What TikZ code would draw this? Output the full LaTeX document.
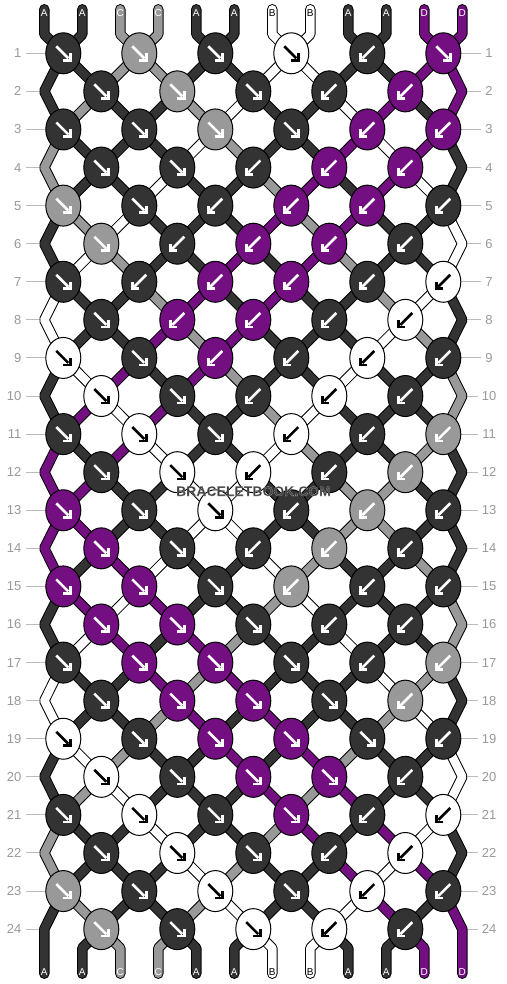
\documentclass[tikz,border=0pt]{standalone}
\usepackage{fontspec}
\setmainfont{Liberation Sans}
\usetikzlibrary{shapes.geometric}
\definecolor{cA}{HTML}{333333}
\definecolor{cC}{HTML}{999999}
\definecolor{cB}{HTML}{FFFFFF}
\definecolor{cD}{HTML}{730F80}
\colorlet{kd}{cA}\colorlet{kg}{cC}\colorlet{kw}{cB}\colorlet{kp}{cD}
\colorlet{ad}{white}\colorlet{ag}{white}\colorlet{ap}{white}\colorlet{aw}{black}
\colorlet{s0}{cA}\colorlet{s1}{cA}\colorlet{s2}{cC}\colorlet{s3}{cC}
\colorlet{s4}{cA}\colorlet{s5}{cA}\colorlet{s6}{cB}\colorlet{s7}{cB}
\colorlet{s8}{cA}\colorlet{s9}{cA}\colorlet{s10}{cD}\colorlet{s11}{cD}
\definecolor{rowgray}{HTML}{BBBBBB}
\definecolor{labgray}{HTML}{999999}
\definecolor{wmgray}{HTML}{404040}
\tikzset{
  strout/.style={draw=black, line width=10.5pt, line cap=round, line join=bevel},
  strin/.style={line width=8.5pt, line cap=round, line join=bevel},
  knot/.style={ellipse, draw=black, line width=1pt, minimum width=35pt, minimum height=41pt, inner sep=0pt},
  arrowline/.style={line width=2.6pt, line cap=butt, line join=miter},
  rowline/.style={draw=rowgray, line width=1pt},
  rowlab/.style={text=labgray, font=\fontsize{13}{15}\selectfont, inner sep=4pt},
  endlab/.style={font=\fontsize{10}{12}\selectfont, inner sep=0pt},
  wmtext/.style={font=\fontsize{14}{16}\selectfont\bfseries, inner sep=0pt}
}
\begin{document}
\begin{tikzpicture}[x=1pt,y=-1pt]
\useasboundingbox (0,0) rectangle (506,984);
\fill[white] (0,0) rectangle (506,984);
% knot centres and edge apexes
\foreach \rr in {1,...,24} {
  \pgfmathsetmacro{\yy}{53.3+38.08*(\rr-1)}
  \pgfmathtruncatemacro{\od}{mod(\rr,2)}
  \ifnum\od=1
    \foreach \jj in {0,...,5} {\coordinate (k-\rr-\jj) at ({63.3+76*\jj},\yy);}
  \else
    \foreach \jj in {0,...,4} {\coordinate (k-\rr-\jj) at ({101.3+76*\jj},\yy);}
    \coordinate (eL-\rr) at (44.3,\yy);
    \coordinate (eR-\rr) at (462.3,\yy);
  \fi
  \node[rowlab, anchor=east] (ll-\rr) at (25.5,\yy) {\rr};
  \node[rowlab] (rl-\rr) at (489,\yy) {\rr};
  \coordinate (la-\rr) at (47,\yy);
  \coordinate (ra-\rr) at (459,\yy);
  \draw[rowline] (ll-\rr.east) -- (la-\rr);
  \draw[rowline] (ra-\rr) -- (rl-\rr.west);
}
% string ends
\foreach \ss in {0,...,11} {
  \pgfmathsetmacro{\xs}{44.3+38*\ss}
  \coordinate (t-\ss) at (\xs,9.3);
  \coordinate (tb-\ss) at (\xs,34.3);
  \coordinate (bb-\ss) at (\xs,948.1);
  \coordinate (b-\ss) at (\xs,973.7);
}
% strings
\foreach \ss in {0,...,11} {
  \pgfmathtruncatemacro{\vz}{mod(\ss,2)==0 ? \ss : 23-\ss}
  \xdef\pth{(t-\ss) -- (tb-\ss)}
  \foreach \rr in {1,...,24} {
    \pgfmathtruncatemacro{\vv}{mod(\vz+\rr,24)}
    \pgfmathtruncatemacro{\pp}{\vv<12 ? \vv : 23-\vv}
    \pgfmathtruncatemacro{\od}{mod(\rr,2)}
    \ifnum\od=1
      \pgfmathtruncatemacro{\jj}{floor(\pp/2)}
      \xdef\pth{\pth -- (k-\rr-\jj)}
    \else
      \ifnum\pp=0
        \xdef\pth{\pth -- (eL-\rr)}
      \else
        \ifnum\pp=11
          \xdef\pth{\pth -- (eR-\rr)}
        \else
          \pgfmathtruncatemacro{\jj}{floor((\pp-1)/2)}
          \xdef\pth{\pth -- (k-\rr-\jj)}
        \fi
      \fi
    \fi
  }
  \xdef\pth{\pth -- (bb-\ss) -- (b-\ss)}
  \edef\tmpcmd{\noexpand\draw[strout] \pth;}\tmpcmd
  \edef\tmpcmd{\noexpand\draw[strin, draw=s\ss] \pth;}\tmpcmd
}
% knots
\foreach \rr/\lst in {
1/{d/f,g/f,d/f,w/f,d/b,p/f},
2/{d/f,g/f,d/f,d/b,p/b},
3/{d/f,d/f,g/f,d/f,p/b,p/b},
4/{d/f,d/f,d/b,p/b,p/b},
5/{g/f,d/f,d/b,p/b,p/b,d/b},
6/{g/f,d/b,p/b,p/b,d/b},
7/{d/f,d/b,p/b,p/b,d/b,w/b},
8/{d/f,p/b,p/b,d/b,w/b},
9/{w/f,d/f,p/b,d/b,w/b,d/b},
10/{w/f,d/f,d/b,w/b,d/b},
11/{d/f,w/f,d/f,w/b,d/b,g/b},
12/{d/f,w/f,w/b,d/b,g/b},
13/{p/f,d/f,w/f,d/b,g/b,d/b},
14/{p/f,d/f,d/b,g/b,d/b},
15/{p/f,p/f,d/f,g/b,d/b,d/b},
16/{p/f,p/f,d/f,d/b,d/b},
17/{d/f,p/f,p/f,d/f,d/b,g/b},
18/{d/f,p/f,p/f,d/f,g/b},
19/{w/f,d/f,p/f,p/f,d/f,d/b},
20/{w/f,d/f,p/f,p/f,d/b},
21/{d/f,w/f,d/f,p/f,d/b,w/b},
22/{d/f,w/f,d/f,d/b,w/b},
23/{g/f,d/f,w/f,d/f,w/b,d/b},
24/{g/f,d/f,w/f,w/b,d/b}} {
  \foreach \cc/\dd [count=\jx from 0] in \lst {
    \node[knot, fill=k\cc] (n-\rr-\jx) at (k-\rr-\jx) {};
    \if\dd f\def\sx{1}\else\def\sx{-1}\fi
    \begin{scope}[shift={(n-\rr-\jx.center)}, xscale=\sx]
      \draw[arrowline, draw=a\cc] (-7,-7) -- (5,5);
      \draw[arrowline, draw=a\cc] (0,7) -- (7,7) -- (7,0);
    \end{scope}
  }
}
% end letters
\foreach \ss/\lt/\tc in {0/A/white,1/A/white,2/C/white,3/C/white,4/A/white,5/A/white,6/B/black,7/B/black,8/A/white,9/A/white,10/D/white,11/D/white} {
  \pgfmathsetmacro{\xs}{44.3+38*\ss}
  \node[endlab, text=\tc] (tl-\ss) at (\xs,13) {\lt};
  \node[endlab, text=\tc] (bl-\ss) at (\xs,972.5) {\lt};
}
% watermark (dark text with a thin light rim)
\node[wmtext, text=wmgray] (wm) at (253.5,491.2) {\special{pdf:literal direct 2 Tr 0.08 w 0.85 0.85 0.85 RG}BRACELETBOOK.COM\special{pdf:literal direct 0 Tr}};
\end{tikzpicture}
\end{document}
